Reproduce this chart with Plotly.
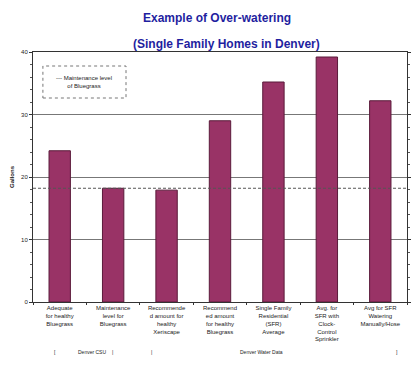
import plotly.graph_objects as go

# Water use per category (gallons)
categories = [
    "Adequate<br>for healthy<br>Bluegrass",
    "Maintenance<br>level for<br>Bluegrass",
    "Recommende<br>d amount for<br>healthy<br>Xeriscape",
    "Recommend<br>ed amount<br>for healthy<br>Bluegrass",
    "Single Family<br>Residential<br>(SFR)<br>Average",
    "Avg. for<br>SFR with<br>Clock-<br>Control<br>Sprinkler",
    "Avg for SFR<br>Watering<br>Manually/Hose",
]
gallons = [24.2, 18.2, 17.9, 29.0, 35.2, 39.2, 32.2]
maintenance_level = 18.2
y_ticks = [0, 10, 20, 30, 40]

BAR = "#993366"
TITLE = "#1f1fa0"
FONT = "Liberation Sans"

W, H = 414, 367
L, R, T, B = 33, 3, 52, 65
PW, PH = W - L - R, H - T - B


def px_x(px):
    return (px - L) / PW


def px_y(py):
    return (H - B - py) / PH


fig = go.Figure()
fig.add_trace(go.Bar(
    x=categories, y=gallons, width=0.4,
    marker=dict(color=BAR, line=dict(color="#5a1a3a", width=1)),
    showlegend=False,
))

# dashed maintenance level across the plot
fig.add_shape(type="line", xref="paper", x0=0, x1=1, yref="y",
              y0=maintenance_level, y1=maintenance_level,
              line=dict(color="#555", width=1, dash="3px,2px"), layer="above")

# legend box
fig.add_shape(type="rect", xref="paper", x0=px_x(43), x1=px_x(127), yref="paper",
              y0=px_y(98), y1=px_y(66), line=dict(color="#777", width=1, dash="dot"),
              fillcolor="white")
fig.add_annotation(xref="paper", yref="paper", x=px_x(85), y=px_y(82),
                   text="--- Maintenance level<br>of Bluegrass", showarrow=False,
                   xanchor="center", yanchor="middle",
                   font=dict(family=FONT, size=6, color="#222"), align="center")

# title
fig.add_annotation(xref="paper", yref="paper", x=px_x(219), y=px_y(18),
                   text="<b>Example of Over-watering</b>", showarrow=False,
                   font=dict(family=FONT, size=12, color=TITLE),
                   xanchor="center", yanchor="middle")
fig.add_annotation(xref="paper", yref="paper", x=px_x(229), y=px_y(44),
                   text="<b>(Single Family Homes in Denver)</b>", showarrow=False,
                   font=dict(family=FONT, size=12, color=TITLE),
                   xanchor="center", yanchor="middle")

# source brackets below the axis
src = [(55, "["), (93, "Denver CSU"), (113, "|"), (153, "|"),
       (264, "Denver Water Data"), (401, "]")]
for px, t in src:
    fig.add_annotation(xref="paper", yref="paper", x=px_x(px), y=px_y(352),
                       text=t, showarrow=False, xanchor="center", yanchor="middle",
                       font=dict(family=FONT, size=5, color="#222"))

fig.update_layout(
    width=W, height=H,
    margin=dict(l=L, r=R, t=T, b=B),
    paper_bgcolor="white", plot_bgcolor="white",
    font=dict(family=FONT, color="#222"),
    bargap=0.6,
)
fig.update_xaxes(
    showline=True, linecolor="#333", mirror=True,
    ticks="outside", ticklen=2, tickson="boundaries", tickcolor="#333",
    tickfont=dict(size=6, family=FONT), tickangle=0,
)
fig.update_yaxes(
    range=[0, 40], tickvals=y_ticks, showgrid=True, gridcolor="#777", gridwidth=1,
    showline=True, linecolor="#333", mirror="ticks",
    ticks="outside", ticklen=3, tickcolor="#333",
    minor=dict(dtick=2, ticks="outside", ticklen=2, tickcolor="#555", showgrid=False),
    tickfont=dict(size=6, family=FONT),
    title=dict(text="<b>Gallons</b>", font=dict(size=6, family=FONT), standoff=6),
    zeroline=False,
)

fig.write_html("out.html")
